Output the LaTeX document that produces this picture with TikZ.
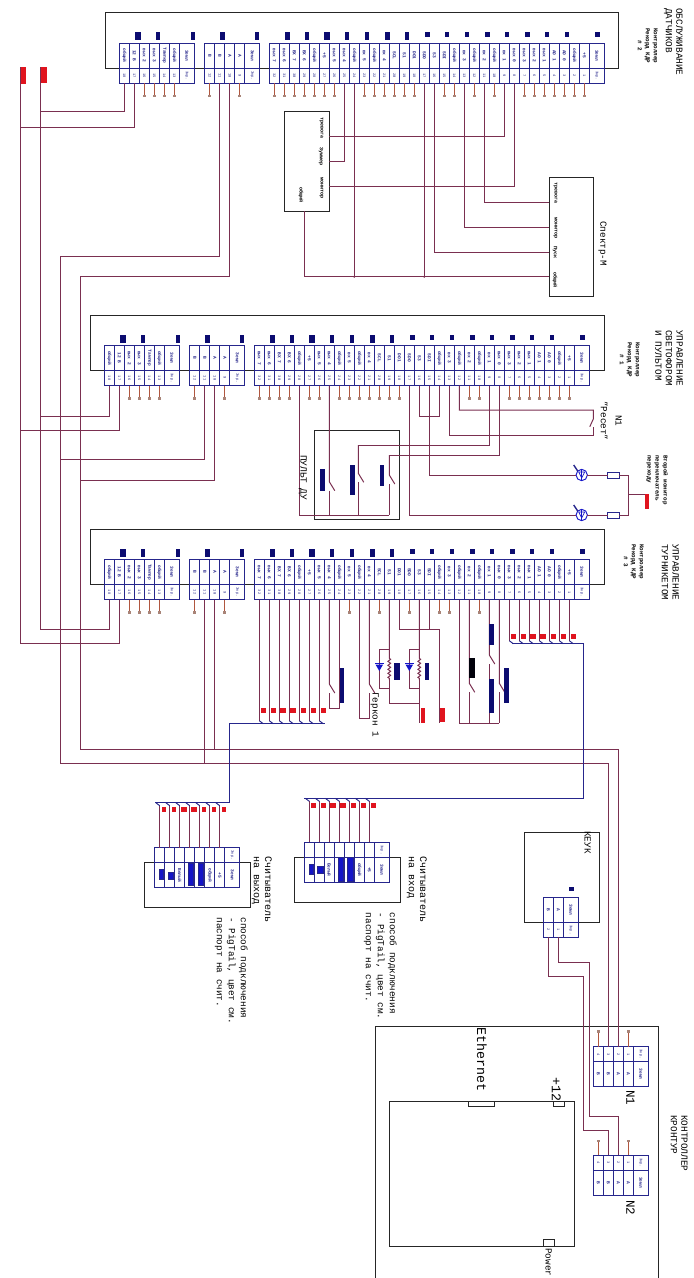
\documentclass[tikz,border=0pt]{standalone}
\usepackage{fontspec}
\setmainfont{Liberation Mono}
\usetikzlibrary{calc}
\usetikzlibrary{shapes.geometric}
\usetikzlibrary{decorations.pathmorphing}

\definecolor{wirec}{HTML}{7A2F50}
\definecolor{stubc}{HTML}{B0563F}
\definecolor{termc}{HTML}{A88478}
\definecolor{cellc}{HTML}{26268C}
\definecolor{navyc}{HTML}{0C0C70}
\definecolor{redc}{HTML}{E0141E}
\definecolor{bluec}{HTML}{1414C8}

\tikzset{
	frameb/.style={draw=black!85,line width=.7pt,inner sep=0,outer sep=0},
	wire/.style={draw=wirec,line width=.75pt},
	bwire/.style={draw=cellc,line width=.7pt},
	stubw/.style={draw=stubc,line width=.6pt},
	termd/.style={fill=termc,inner sep=0,minimum size=2.2pt},
	upcell/.style={draw=cellc,fill=white,line width=.6pt,inner sep=0,outer sep=0,text=cellc,minimum height=18.75pt,font=\fontsize{3.4}{4}\selectfont\bfseries},
	lowcell/.style={draw=cellc,fill=white,line width=.6pt,inner sep=0,outer sep=0,text=cellc,minimum height=11.25pt,font=\fontsize{2.8}{3}\selectfont},
	navybar/.style={fill=navyc,inner sep=0,outer sep=0},
	blackbar/.style={fill=black!90!navyc,inner sep=0,outer sep=0},
	rdbar/.style={fill=bluec,draw=cellc,line width=.3pt,inner sep=0,outer sep=0},
	redbar/.style={fill=redc,inner sep=0,outer sep=0},
	pinred/.style={fill=redc,inner sep=0,outer sep=0,minimum height=3.75pt},
	lab/.style={rotate=-90,anchor=north west,align=left,inner sep=0,font=\fontsize{7}{8}\selectfont},
	biglab/.style={lab,font=\fontsize{10}{11}\selectfont},
	smalllab/.style={lab,align=center,font=\fontsize{4.4}{6}\selectfont\bfseries},
	boxlab/.style={lab,font=\fontsize{3.8}{4.4}\selectfont\bfseries},
	lampc/.style={circle,draw=bluec,fill=white,line width=.7pt,inner sep=0,outer sep=0,minimum size=8.5pt},
	resb/.style={draw=cellc,fill=white,line width=.6pt,inner sep=0,outer sep=0,minimum width=8.5pt,minimum height=4.4pt},
	diodeb/.style={regular polygon,regular polygon sides=3,shape border rotate=180,fill=bluec,inner sep=0,outer sep=0,minimum size=6.5pt},
	dotp/.style={circle,fill=wirec,inner sep=0,minimum size=1.8pt},
}

% box from two corners, in pixels of the sheet
\newcommand{\pbox}[6][frameb]{\node (#2) [#1,minimum width={(#5-#3)*0.75pt},minimum height={(#6-#4)*0.75pt}] at ({(#3+#5)/2},{(#4+#6)/2}) {};}

% terminal group, label above number
\newcommand{\kdrgroup}[6]{
	\foreach \lab [count=\n] in {#4} {
		\pgfmathtruncatemacro\num{#6+#5-\n+1}
		\node (#1\n u) [upcell,minimum width=7.5pt] at ({#2+5+10*(\n-1)},{#3+12.5}) {\rotatebox{-90}{\lab}};
		\node (#1\n) [lowcell,minimum width=7.5pt] at ({#2+5+10*(\n-1)},{#3+32.5}) {\rotatebox{-90}{\num}};
	}
	\node (#1xu) [upcell,minimum width=11.25pt] at ({#2+10*#5+7.5},{#3+12.5}) {\rotatebox{-90}{Земл}};
	\node (#1x) [lowcell,minimum width=11.25pt] at ({#2+10*#5+7.5},{#3+32.5}) {\rotatebox{-90}{Экр.}};
}

% terminal group, number above label
\newcommand{\nblock}[6]{
	\foreach \lab [count=\n] in {#4} {
		\node (#1l\n) [lowcell,minimum width=7.5pt] at ({#2+5+10*(\n-1)},{#3+7.5}) {\ifnum#6>0 \rotatebox{-90}{\the\numexpr#6-\n+1\relax}\fi};
		\node (#1u\n) [upcell,minimum width=7.5pt] at ({#2+5+10*(\n-1)},{#3+27.5}) {\rotatebox{-90}{\lab}};
	}
	\node (#1lx) [lowcell,minimum width=11.25pt] at ({#2+10*#5+7.5},{#3+7.5}) {\rotatebox{-90}{Экр.}};
	\node (#1ux) [upcell,minimum width=11.25pt] at ({#2+10*#5+7.5},{#3+27.5}) {\rotatebox{-90}{Земл}};
}

% whole terminal strip of one controller
\newcommand{\kdrblock}[3]{
	\foreach \dx/\w in {18.4/6,38.4/4,73.4/4,103.4/5,138/4,168/5.5,188/4,208/6,228/4,248/4,268/5.5,288/4}
		\fill[navyc] ({#2+\dx-\w/2},{#3-10.7}) rectangle ++(\w,8);
	\foreach \dx/\w in {308/5,328/4,348/4,368/5,388/4,408/5,428/4,448/4,478/5.5}
		\fill[navyc] ({#2+\dx-\w/2},{#3-10.7}) rectangle ++(\w,4.8);
	\kdrgroup{#1a}{#2}{#3}{общий,12 В,вых 2,вых 3,Тампер,общий}{6}{12}
	\kdrgroup{#1b}{#2+85.5}{#3}{В,В,А,А}{4}{8}
	\kdrgroup{#1c}{#2+150}{#3}{вых 7,вых 6,ВХ 7,ВХ 6,общий,+5,вых 5,вых 4,общий,вх 5,общий,вх 4,SCL,S1,DO1,SDO,S3,SDI,общий,вх 3,общий,вх 2,общий,вх 1,вых 0,вых 3,вых 2,вых 1,AO 1,AO 0,общий,+5}{32}{0}
}

\newcommand{\stubs}[4]{\foreach \i in {#4} \draw[stubw] (#1\i.#2) -- ++(0,#3) node (#1\i t) [termd] {};}

% contact: wire, blade, tail
\newcommand{\nocont}[3]{
	\draw[wire] (#1) -- ++(0,#2) -- ++(5.5,9);
	\draw[wire] (#1) ++(0,#2+9) -- ++(0,#3);
}

\newcommand{\relay}[2]{
	\draw[wire] (#2.south) -- ++(0,58.6) decorate[decoration={zigzag,segment length=3pt,amplitude=1pt}] {-- ++(0,21.7)} coordinate (#1e);
	\draw[wire] (#2.south) ++(0,49.3) -- ++(-10,0) -- ++(0,39.3) -- ++(10,0);
	\path (#2.south) ++(-10,67) node (#1d) [diodeb] {};
	\draw[draw=bluec,line width=.8pt] ($(#1d.center)+(-4.5,-3.2)$) -- ++(9,0);
}

\newcommand{\lampn}[3]{
	\node (#1) [lampc] at (#2,#3) {};
	\draw[draw=bluec,line width=.5pt] (#1.north) -- (#1.south);
	\draw[draw=bluec,line width=.5pt] ($(#1)+(-3,-3)$) -- ++(6,0) -- ++(-3,6) -- cycle;
	\draw[draw=cellc,line width=1pt] (#1.north west) -- ++(-4,-6);
}

% seven wires with red pins, ending in ticks on a bus
\newcommand{\pigtail}[7]{
	\foreach \k/\w in {0/4.5,1/4.5,2/6,3/6,4/4.5,5/4.5,6/4.5} {
		\pgfmathtruncatemacro\cn{#2+\k}
		\draw[wire] (#1\cn.#3) -- ++(0,#4) coordinate (#1\cn e);
		\draw[bwire] (#1\cn e) -- ++(#5,#6);
		\node (#1\cn p) [pinred,minimum width={\w*0.75pt}] at ($(#1\cn e)+(4,#7)$) {};
	}
}

\begin{document}
\begin{tikzpicture}[x=0.75pt,y=-0.75pt]
	\useasboundingbox (0,0) rectangle (693,1278);
	\fill[white] (0,0) rectangle (693,1278);

	% frames
	\pbox{ctrA}{105}{12.7}{618.3}{68}
	\pbox{ctrB}{90}{315.7}{604}{370.7}
	\pbox{ctrC}{90}{529.3}{604}{584}
	\pbox{sns}{284}{111.7}{329.3}{211.3}
	\pbox{spk}{549.3}{177.3}{593.3}{296}
	\pbox{pult}{314.3}{430.7}{399.3}{519.3}
	\pbox{rdo}{144.3}{862.7}{250.3}{907}
	\pbox{rdi}{294}{857.3}{400}{902.7}
	\pbox{keuk}{524}{832.3}{599.3}{922.7}
	\pbox{ctl}{375}{1026.7}{658.3}{1300}
	\pbox{brd}{389.3}{1101}{574.3}{1246}
	\pbox{ethn}{468.3}{1101}{494}{1106}
	\pbox{plus}{553.3}{1101}{564.3}{1106}
	\pbox{powr}{543.3}{1239.3}{554}{1246}

	% terminals
	\kdrblock{A}{119.3}{43}
	\kdrblock{B}{104.3}{345.5}
	\kdrblock{C}{104.3}{559.7}
	\kdrgroup{K}{543.3}{897.3}{В,А}{2}{0}
	\fill[navyc] (569.3,887.3) rectangle ++(5,4);
	\nblock{N1}{593.3}{1046.7}{В,В,А,А}{4}{4}
	\nblock{N2}{593.3}{1155}{В,В,А,А}{4}{4}
	\nblock{Ro}{154.8}{847.7}{,,Белый,,,общий,+5}{7}{0}
	\nblock{Ri}{304.3}{842.3}{,,Белый,,,общий,+5}{7}{0}

	% free terminals
	\stubs{Aa}{south}{13}{3,4,5,6}
	\stubs{Ab}{south}{13}{1,4}
	\stubs{Ac}{south}{13}{1,2,3,4,5,6,7,10,11,12,13,14,15,18,19,21,23,26,27,28,29,30,31,32}
	\stubs{Ba}{south}{13}{3,4,5,6}
	\stubs{Bb}{south}{13}{1,4}
	\stubs{Bc}{south}{13}{1,2,3,4,6,7,9,10,11,12,13,14,15,22,23,26,27,28,29,30,31,32}
	\stubs{Ca}{south}{13}{3,4,5,6}
	\stubs{Cb}{south}{13}{1,4}
	\stubs{Cc}{south}{13}{10,13,16,19,20,23}
	\stubs{N1l}{north}{-15}{1,4}
	\stubs{N2l}{north}{-14}{1,4}

	% common lines on the left
	\pbox[redbar]{pinL}{20}{67.3}{26}{84}
	\pbox[redbar]{pinR}{40}{67.3}{46.7}{83}
	\coordinate (busL) at (20,67.3);
	\coordinate (busR) at (40,67.3);
	\coordinate (busM) at (60,256.7);
	\coordinate (busN) at (80,276.7);
	\coordinate (ptM) at (608.3,763.7);
	\coordinate (ptN) at (618.3,749);
	\draw[wire] (Aa1.south) -- ++(0,28.7) -| (busR);
	\draw[wire] (Aa2.south) -- ++(0,44.3) -| (busL);
	\draw[wire] (Ab2.south) -- ++(0,173.7) -| (busM);
	\draw[wire] (Ab3.south) -- ++(0,193.7) -| (busN);
	\draw[wire] (Ba1.south) -- ++(0,30.5) -| (busR);
	\draw[wire] (Ba2.south) -- ++(0,44.5) -| (busL);
	\draw[wire] (Bb2.south) -- ++(0,73.8) -| (busM);
	\draw[wire] (Bb3.south) -- ++(0,94.5) -| (busN);
	\draw[wire] (Ca1.south) -- ++(0,29.3) -| (busR);
	\draw[wire] (Ca2.south) -- ++(0,44) -| (busL);
	\draw[wire] (Cb2.south) -- (Cb2.south |- ptM);
	\draw[wire] (Cb3.south) -- (Cb3.south |- ptN);
	\draw[wire] (busM) |- (ptM) -| (N1l2.north);
	\draw[wire] (busN) |- (ptN) -| (N1l3.north);

	% controller 2
	\coordinate (sns1) at (329.3,136.7);
	\coordinate (sns2) at (329.3,161.3);
	\coordinate (sns3) at (329.3,186);
	\coordinate (sns4) at (304.3,211.3);
	\coordinate (spk1) at (549.3,202);
	\coordinate (spk2) at (549.3,227);
	\coordinate (spk3) at (549.3,252);
	\coordinate (spk4) at (549.3,276.7);
	\draw[wire] (Ac24.south) |- (sns1);
	\draw[wire] (Ac8.south) |- (sns2);
	\draw[wire] (Ac25.south) |- (sns3);
	\draw[wire] (sns4) |- (spk4);
	\draw[wire] (Ac9.south) -- (Ac9.south |- spk4) node (dot1) [dotp] {};
	\draw[wire] (Ac16.south) -- (Ac16.south |- spk4) node (dot2) [dotp] {};
	\draw[wire] (Ac17.south) |- (spk3);
	\draw[wire] (Ac20.south) |- (spk2);
	\draw[wire] (Ac22.south) |- (spk1);

	% controller 1
	\coordinate (pu2) at (358.3,445);
	\coordinate (pu3) at (389.3,455);
	\coordinate (pu4) at (389.3,515.3);
	\coordinate (rst1) at (593.3,410);
	\coordinate (rst2) at (593.3,435);
	\draw[wire] (Bc5.south) |- (pu4);
	\nocont{Bc8.south}{96.2}{24.6}
	\draw[wire] (Bc24.south) |- (pu2);
	\draw[wire] (Bc25.south) |- (pu3);
	\nocont{pu2}{28.3}{33}
	\nocont{pu3}{20}{31.3}
	\pbox[navybar]{pu1b}{319.7}{469.3}{325.3}{490.7}
	\pbox[navybar]{pu2b}{350.3}{465}{355}{495}
	\pbox[navybar]{pu3b}{379.7}{465}{384.3}{486}
	\draw[wire] (Bc17.south) -- ++(0,30.5) -| (Bc19.south);
	\draw[wire] (Bc21.south) -- ++(0,24.5) -| (rst1) -- ++(0,9) -- ++(-3.5,7.7);
	\draw[wire] (Bc20.south) -- ++(0,49.5) -| (rst2) -- ++(0,-8);
	\lampn{lamp1}{581.7}{475}
	\lampn{lamp2}{581.7}{515}
	\node (res1) [resb] at (613.3,475) {};
	\node (res2) [resb] at (613.3,515) {};
	\coordinate (jr1) at (628.3,475);
	\coordinate (jr2) at (628.3,515);
	\coordinate (jt) at (628.3,494.3);
	\pbox[redbar]{lampred}{645}{494.3}{649.3}{509.3}
	\draw[wire] (Bc18.south) |- (lamp1.west);
	\draw[wire] (Bc16.south) |- (lamp2.west);
	\draw[wire] (lamp1.east) -- (res1.west);
	\draw[wire] (lamp2.east) -- (res2.west);
	\draw[wire] (res1.east) -- (jr1) -- (jr2) -- (res2.east);
	\draw[wire] (jt) -- (lampred.north west);

	% controller 3
	\pigtail{Cc}{1}{south}{121}{4}{3}{-10.3}
	\pigtail{Cc}{26}{south}{41}{4}{3}{-4.7}
	\pigtail{Rol}{1}{north}{-42}{-4}{-3}{4}
	\pigtail{Ril}{1}{north}{-41}{-4}{-3}{4}
	\coordinate (bA1) at (155,802.7);
	\coordinate (bA2) at (229.3,802.7);
	\coordinate (bA3) at (325,723.7);
	\coordinate (bB1) at (304.3,798.3);
	\coordinate (bB2) at (583.3,798.3);
	\coordinate (bB3) at (511.7,643.7);
	\draw[bwire] (bA1) -- (bA2) |- (bA3);
	\draw[bwire] (bB1) -- (bB2) |- (bB3);
	\nocont{Cc8.south}{84.3}{15.3}
	\draw[wire] (Cc9.south) |- ++(-10,108.6);
	\pbox[navybar]{c9b}{339.7}{668.3}{344.3}{702.7}
	\coordinate (grk) at (369.3,693);
	\draw[wire] (Cc11.south) -- ++(0,118.6) -| (grk);
	\draw[wire] (Cc12.south) -- ++(0,84.3) -- ++(5.5,9);
	\relay{rly1}{Cc14}
	\relay{rly2}{Cc17}
	\draw[wire] (rly1e) -- ++(0,23.3) -| (rly2e);
	\draw[wire] (rly2e) -- ++(0,43.3);
	\pbox[navybar]{rly1b}{394.3}{663.3}{400.3}{680}
	\pbox[navybar]{rly2b}{425.3}{663.3}{429.3}{680}
	\pbox[redbar]{pinE}{421}{707.7}{425}{723.3}
	\pbox[redbar]{pinF}{439.3}{707.7}{445.3}{722.3}
	\coordinate (cf) at (439.3,723.3);
	\coordinate (cb) at (499.3,723.3);
	\draw[wire] (Cc15.south) -- ++(0,29.3) -| (cf);
	\draw[wire] (Cc18.south) -- ++(0,29.3);
	\draw[wire] (Cc21.south) |- (cb);
	\nocont{Cc22.south}{83.6}{31}
	\nocont{Cc24.south}{55.3}{59.3}
	\nocont{Cc25.south}{83.6}{31}
	\pbox[blackbar]{c22b}{469}{658}{475}{678}
	\pbox[navybar]{c24a}{489.3}{624.3}{494}{645}
	\pbox[navybar]{c24b}{489.3}{679}{494}{712.7}
	\pbox[navybar]{c25b}{504.3}{668.3}{508.7}{702.7}

	% readers
	\pbox[rdbar]{ro1}{158.7}{869}{163.3}{879}
	\pbox[rdbar]{ro2}{168}{871.7}{173.3}{879}
	\pbox[rdbar]{ro4}{188.3}{863}{193}{885}
	\pbox[rdbar]{ro5}{197.7}{863}{203}{885}
	\pbox[rdbar]{ri1}{308.7}{864.3}{313.3}{874.3}
	\pbox[rdbar]{ri2}{317.3}{866}{323.3}{873.3}
	\pbox[rdbar]{ri4}{338.3}{857.3}{342.7}{880.7}
	\pbox[rdbar]{ri5}{347.3}{857.3}{352.7}{880.7}

	% KEUK to controller
	\coordinate (kA) at (583.3,976.7);
	\coordinate (kB) at (589,962.3);
	\coordinate (kC) at (583.3,1130);
	\coordinate (kD) at (589,1116);
	\draw[wire] (K1.south) |- (kA) -- (kC) -| (N2l2.north);
	\draw[wire] (K2.south) |- (kB) -- (kD) -| (N2l3.north);

	% texts
	\node (tA) [lab] at (683,8) {ОБСЛУЖИВАНИЕ\\ДАТЧИКОВ};
	\node (tAs) [smalllab] at (658,28) {Контроллер\\Рекорд КДР\\\# 2};
	\node (tB) [lab] at (683,330) {УПРАВЛЕНИЕ\\СВЕТОФОРОМ\\И ПУЛЬТОМ};
	\node (tBs) [smalllab] at (640,342) {Контроллер\\Рекорд КДР\\\# 1};
	\node (tC) [lab] at (679,544) {УПРАВЛЕНИЕ\\ТУРНИКЕТОМ};
	\node (tCs) [smalllab] at (644,544) {Контроллер\\Рекорд КДР\\\# 3};
	\node (tK) [lab] at (688,1115) {КОНТРОЛЛЕР\\КРОНТУР};
	\node (tSp) [lab] at (607,221) {Спектр-М};
	\node (tPu) [lab] at (307,455) {ПУЛЬТ ДУ};
	\node (tRs) [lab] at (608,401) {"Ресет"};
	\node (tN0) [lab] at (622,415) {N1};
	\node (tGr) [lab] at (379,692) {Геркон 1};
	\node (tLm) [smalllab,align=left] at (668,455) {Второй монитор\\переключатель\\переходу};
	\node (tKe) [lab] at (591,831) {КЕУК};
	\node (tRo) [lab,font=\fontsize{7.5}{8.4}\selectfont] at (272,856.7) {Считыватель\\на выход};
	\node (tRos) [lab,font=\fontsize{7}{9}\selectfont] at (248,917.3) {способ подключения\\- PigTail, цвет см.\\паспорт на счит.};
	\node (tRi) [lab,font=\fontsize{7.5}{8.4}\selectfont] at (427,856.7) {Считыватель\\на вход};
	\node (tRis) [lab,font=\fontsize{7}{9}\selectfont] at (397,912.7) {способ подключения\\- PigTail, цвет см.\\паспорт на счит.};
	\node (tEt) [biglab] at (487,1027) {Ethernet};
	\node (tPl) [biglab] at (561,1077) {+12};
	\node (tPo) [lab] at (552,1248) {Power к};
	\node (tN1) [lab,font=\fontsize{9.4}{10}\selectfont] at (635,1090) {N1};
	\node (tN2) [lab,font=\fontsize{9.4}{10}\selectfont] at (635,1200) {N2};

	% labels in the two small boxes
	\node (sn1) [boxlab] at (323.5,117) {тревога};
	\node (sn2) [boxlab] at (323.5,147) {Зуммер};
	\node (sn3) [boxlab] at (323.5,177) {монитор};
	\node (sn4) [boxlab] at (303.5,187) {общий};
	\node (sp1) [boxlab] at (557.5,182) {тревога};
	\node (sp2) [boxlab] at (557.5,217) {монитор};
	\node (sp3) [boxlab] at (557.5,246) {Пуск};
	\node (sp4) [boxlab] at (557.5,272) {общий};
\end{tikzpicture}
\end{document}
